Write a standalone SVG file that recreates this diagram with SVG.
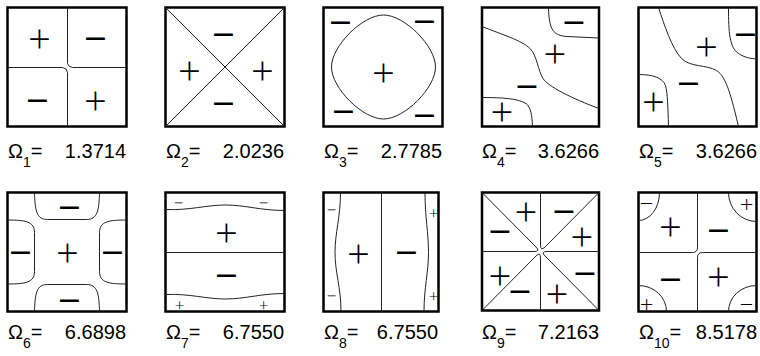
<svg xmlns="http://www.w3.org/2000/svg" width="760" height="356" viewBox="0 0 760 356">
<style>
.box{fill:none;stroke:#000;stroke-width:2.5}
.ln{fill:none;stroke:#222;stroke-width:1}
.s{font-family:"Open Sans","Liberation Sans",sans-serif;font-weight:300;font-size:40px;text-anchor:middle;dominant-baseline:central;fill:#000}
.m{font-weight:400}
.sm{font-size:17px;font-weight:300}
.sm2{font-size:24px;font-weight:300}
.lab{font-family:"Liberation Sans",Arial,sans-serif;font-size:20px;fill:#000}
.sub{font-size:14px}
</style>
<rect width="760" height="356" fill="#fff"/>

<g id="p1" transform="translate(7.5,7.5)">
<rect class="box" width="119" height="119"/>
<path class="ln" d="M60,0 V56 Q61,59.5 65,60 H119 M0,60 H55 Q59.5,60.5 60,65 V119"/>
<text class="s" x="32" y="30">+</text><text class="s m" x="88" y="30">−</text>
<text class="s m" x="30" y="92">−</text><text class="s" x="88" y="92">+</text>
</g>
<text class="lab" x="8" y="157.5">Ω<tspan class="sub" dy="9">1</tspan><tspan dy="-9">=</tspan><tspan x="126" text-anchor="end">1.3714</tspan></text>

<g id="p2" transform="translate(165.5,7.5)">
<rect class="box" width="119" height="119"/>
<path class="ln" d="M0,0 L119,119 M119,0 L0,119"/>
<text class="s m" x="58" y="26">−</text><text class="s" x="24" y="62">+</text>
<text class="s" x="97" y="62">+</text><text class="s m" x="58" y="95">−</text>
</g>
<text class="lab" x="166" y="157.5">Ω<tspan class="sub" dy="9">2</tspan><tspan dy="-9">=</tspan><tspan x="284" text-anchor="end">2.0236</tspan></text>

<g id="p3" transform="translate(323.5,7.5)">
<rect class="box" width="119" height="119"/>
<path class="ln" d="M8,59.5 C8,38.5 39,7.5 60,7.5 C81,7.5 112,38.5 112,59.5 C112,80.5 81,111.5 60,111.5 C39,111.5 8,80.5 8,59.5 Z"/>
<text class="s m" x="17" y="14">−</text><text class="s m" x="101" y="13">−</text>
<text class="s" x="60" y="64">+</text>
<text class="s m" x="20" y="103">−</text><text class="s m" x="101" y="107">−</text>
</g>
<text class="lab" x="324" y="157.5">Ω<tspan class="sub" dy="9">3</tspan><tspan dy="-9">=</tspan><tspan x="442" text-anchor="end">2.7785</tspan></text>

<g id="p4" transform="translate(482,7.5)">
<rect class="box" width="117" height="119"/>
<path class="ln" d="M66.5,0 C67,22 71,28 85,29 L117,30.5"/>
<path class="ln" d="M0,90 C20,90 36,91 44,96 C49,100 50,108 50.5,119"/>
<path class="ln" d="M0,19 C20,27 40,33 48,41 C55,48 56,63 61,71 C66,79 90,91 117,101"/>
<text class="s m" x="92" y="14">−</text><text class="s" x="73" y="45">+</text>
<text class="s m" x="45" y="78">−</text><text class="s" x="20" y="103">+</text>
</g>
<text class="lab" x="482" y="157.5">Ω<tspan class="sub" dy="9">4</tspan><tspan dy="-9">=</tspan><tspan x="599" text-anchor="end">3.6266</tspan></text>

<g id="p5" transform="translate(638.5,7.5)">
<rect class="box" width="118" height="119"/>
<path class="ln" d="M90,0 C90,25 91,40 100,46 C106,50 112,51 118,51.5"/>
<path class="ln" d="M0,67 C14,67 24,70 27,78 C29,85 29.5,100 30,119"/>
<path class="ln" d="M20,0 C26,18 33,40 43,51 C52,60 68,57 78,63 C88,69 93,90 100,119"/>
<text class="s m" x="107" y="26">−</text><text class="s" x="68" y="38">+</text>
<text class="s m" x="50" y="75">−</text><text class="s" x="15" y="93">+</text>
</g>
<text class="lab" x="639" y="157.5">Ω<tspan class="sub" dy="9">5</tspan><tspan dy="-9">=</tspan><tspan x="757" text-anchor="end">3.6266</tspan></text>

<g id="p6" transform="translate(7.5,192.5)">
<rect class="box" width="119" height="119"/>
<path class="ln" d="M27,0 C27.5,18 29,27 40,27 H79 C90,27 91.5,18 92,0"/>
<path class="ln" d="M27,119 C27.5,101 29,92 40,92 H79 C90,92 91.5,101 92,119"/>
<path class="ln" d="M0,27.5 C18,27.5 27,29 27,40 V79 C27,90 18,91.5 0,91.5"/>
<path class="ln" d="M119,27.5 C101,27.5 92,29 92,40 V79 C92,90 101,91.5 119,91.5"/>
<text class="s m" x="62" y="14">−</text><text class="s m" x="13" y="59">−</text>
<text class="s" x="60" y="59">+</text><text class="s m" x="105" y="59">−</text>
<text class="s m" x="62" y="107">−</text>
</g>
<text class="lab" x="8" y="339">Ω<tspan class="sub" dy="9">6</tspan><tspan dy="-9">=</tspan><tspan x="126" text-anchor="end">6.6898</tspan></text>

<g id="p7" transform="translate(165.5,192.5)">
<rect class="box" width="119" height="119"/>
<path class="ln" d="M0,60 H119"/>
<path class="ln" d="M0,17 C25,18 40,12.5 60,12.5 C80,12.5 95,18 119,18"/>
<path class="ln" d="M0,102 C25,101 40,106.5 60,106.5 C80,106.5 95,101 119,101"/>
<text class="s sm" x="13" y="10">−</text><text class="s sm" x="98" y="10">−</text>
<text class="s" x="61" y="39">+</text><text class="s m" x="61" y="82">−</text>
<text class="s sm" x="14" y="112">+</text><text class="s sm" x="98" y="112">+</text>
</g>
<text class="lab" x="166" y="339">Ω<tspan class="sub" dy="9">7</tspan><tspan dy="-9">=</tspan><tspan x="284" text-anchor="end">6.7550</tspan></text>

<g id="p8" transform="translate(323.5,192.5)">
<rect class="box" width="115" height="119"/>
<path class="ln" d="M58,0 V119"/>
<path class="ln" d="M17,0 C17,25 11.5,40 11.5,60 C11.5,80 17.5,95 17.5,119"/>
<path class="ln" d="M101.5,0 C101.5,25 105,40 105,60 C105,80 100.5,95 100.5,119"/>
<text class="s sm" x="8" y="17">−</text><text class="s sm" x="8" y="103">−</text>
<text class="s" x="35" y="60">+</text><text class="s m" x="83" y="59">−</text>
<text class="s sm" x="110" y="20">+</text><text class="s sm" x="110" y="103">+</text>
</g>
<text class="lab" x="324" y="339">Ω<tspan class="sub" dy="9">8</tspan><tspan dy="-9">=</tspan><tspan x="438" text-anchor="end">6.7550</tspan></text>

<g id="p9" transform="translate(482,192.5)">
<rect class="box" width="117" height="118"/>
<path class="ln" d="M0,59 H52 Q58.5,59 54,54.5 L0,0"/>
<path class="ln" d="M58.5,0 V52.5 Q58.5,59 63,54.5 L117,0"/>
<path class="ln" d="M117,59 H65 Q58.5,59 63,63.5 L117,118"/>
<path class="ln" d="M58.5,118 V65.5 Q58.5,59 54,63.5 L0,118"/>
<text class="s" x="44" y="18">+</text><text class="s m" x="82" y="18">−</text>
<text class="s" x="100" y="43">+</text><text class="s m" x="103" y="80">−</text>
<text class="s" x="75" y="100">+</text><text class="s m" x="38" y="98">−</text>
<text class="s" x="18" y="82">+</text><text class="s m" x="18" y="38">−</text>
</g>
<text class="lab" x="482" y="339">Ω<tspan class="sub" dy="9">9</tspan><tspan dy="-9">=</tspan><tspan x="599" text-anchor="end">7.2163</tspan></text>

<g id="p10" transform="translate(638.5,192.5)">
<rect class="box" width="118" height="119"/>
<path class="ln" d="M59,0 V55 Q59,60 54,60 H0 M59,119 V65 Q59,60 64,60 H118"/>
<path class="ln" d="M21,0 A21,28 0 0 1 0,28 M90,0 A28,29 0 0 0 118,29 M0,93 A28,26 0 0 1 28,119 M118,93 A28,26 0 0 0 90,119"/>
<text class="s sm2" x="8" y="10">−</text><text class="s" x="32" y="33">+</text>
<text class="s m" x="80" y="37">−</text><text class="s sm2" x="108" y="11">+</text>
<text class="s m" x="32" y="86">−</text><text class="s" x="80" y="83">+</text>
<text class="s sm2" x="8" y="111">+</text><text class="s sm2" x="108" y="111">−</text>
</g>
<text class="lab" x="639" y="339">Ω<tspan class="sub" dy="9">10</tspan><tspan dy="-9">=</tspan><tspan x="757" text-anchor="end">8.5178</tspan></text>
</svg>
